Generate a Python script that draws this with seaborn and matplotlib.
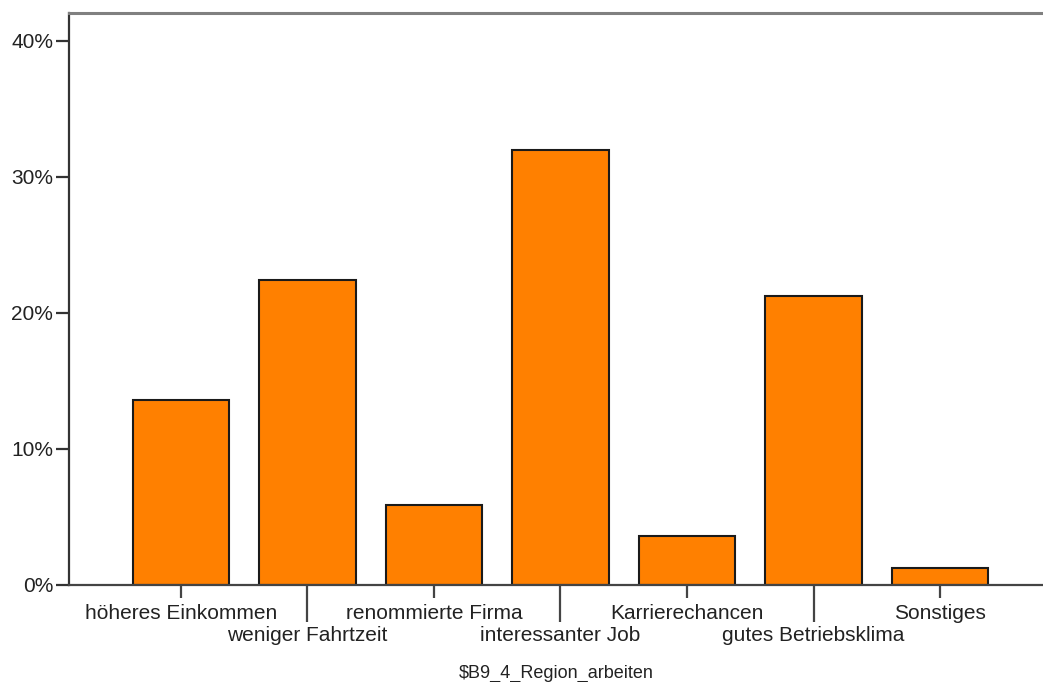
import pandas as pd
import matplotlib
matplotlib.use("Agg")
import matplotlib.pyplot as plt
import seaborn as sns
from matplotlib.ticker import FuncFormatter

# --- data ---
kategorien = [
    "höheres Einkommen",
    "weniger Fahrtzeit",
    "renommierte Firma",
    "interessanter Job",
    "Karrierechancen",
    "gutes Betriebsklima",
    "Sonstiges",
]
prozent = [13.6, 22.4, 5.85, 32.0, 3.57, 21.2, 1.2]
y_ticks = [0, 10, 20, 30, 40]
x_titel = "$B9_4_Region_arbeiten"

df = pd.DataFrame({"kategorie": kategorien, "prozent": prozent})

sns.set_style("white")
plt.rcParams["font.family"] = ["Liberation Sans", "DejaVu Sans"]

fig = plt.figure(figsize=(10.43, 6.82), dpi=100)
ax = fig.add_axes([69 / 1043, 97.5 / 682, (1043 - 69) / 1043, (584.5 - 13) / 682])

sns.barplot(
    data=df, x="kategorie", y="prozent", ax=ax,
    color="#FF8000", saturation=1, width=0.76,
    edgecolor="#1a1a1a", linewidth=1.5,
)

ax.set_xlim(-0.885, 6.814)
ax.set_ylim(0, 42.05)
ax.set_yticks(y_ticks)
ax.yaxis.set_major_formatter(FuncFormatter(lambda v, p: f"{v:.0f}%"))

# spines like the SPSS output
ax.spines["right"].set_visible(False)
ax.spines["left"].set_color("#333333")
ax.spines["left"].set_linewidth(1.6)
ax.spines["bottom"].set_color("#444444")
ax.spines["bottom"].set_linewidth(1.6)
ax.spines["top"].set_color("#808080")
ax.spines["top"].set_linewidth(2.2)

kurz, lang = 9.4, 26.6
ax.tick_params(axis="y", direction="out", length=kurz, width=1.6, color="#333333",
               labelsize=15, labelcolor="#222222", pad=2, left=True)
ax.tick_params(axis="x", direction="out", length=kurz, width=1.6, color="#444444",
               labelsize=15, labelcolor="#222222", pad=4.5, bottom=True)

# alternate short / long ticks so labels sit on two rows
# (set_pad resets the marker size, so the length goes last)
for i, tick in enumerate(ax.xaxis.get_major_ticks()):
    if i % 2 == 1:
        tick.set_pad(lang - kurz + 3.0)
        tick.tick1line.set_markersize(lang)

ax.set_xlabel(x_titel, fontsize=13, color="#222222", labelpad=14.5)
ax.set_ylabel("")

fig.savefig("out.png", dpi=100)
